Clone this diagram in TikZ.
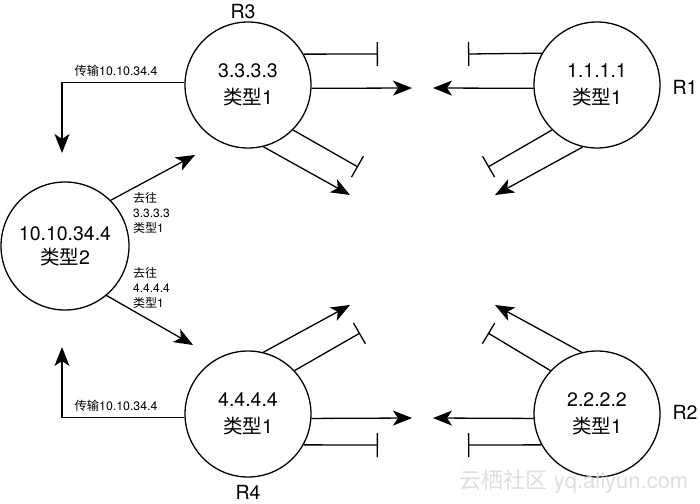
\documentclass[tikz,border=0pt]{standalone}
\usepackage{fontspec}
\setmainfont{TeX Gyre Heros}
\newfontfamily\cjk{Noto Sans CJK SC}
\usetikzlibrary{arrows.meta}
\tikzset{
  router/.style={circle,draw,line width=1.3pt,minimum size=126pt,inner sep=0pt,align=center,font=\fontsize{19.5}{27}\selectfont},
  arr/.style={line width=1.3pt,-{Stealth[length=19pt,width=15pt,inset=5pt]}},
  tbar/.style={line width=1.3pt,-{Bar[width=24pt,line width=1.3pt]}},
  rlabel/.style={font=\fontsize{19.5}{22}\selectfont,inner sep=0pt},
  small/.style={font=\fontsize{12}{15}\selectfont,inner sep=0pt,align=left},
  trans/.style={font=\fontsize{12.3}{14}\selectfont,inner sep=0pt}
}
\begin{document}
\begin{tikzpicture}[x=1pt,y=-1pt]
\useasboundingbox (0,0) rectangle (700,503);
% routers
\node[router] (r3) at (248,85) {3.3.3.3\\{\cjk 类型}1};
\node[router] (r1) at (597,85) {1.1.1.1\\{\cjk 类型}1};
\node[router] (r4) at (248,414) {4.4.4.4\\{\cjk 类型}1};
\node[router] (r2) at (597,414) {2.2.2.2\\{\cjk 类型}1};
\node[router,minimum size=128pt] (t) at (65,246) {10.10.34.4\\[-3pt]{\cjk 类型}2};
% router labels
\node[rlabel] (l3) at (243,12) {R3};
\node[rlabel] (l1) at (685,87) {R1};
\node[rlabel] (l2) at (685,412) {R2};
\node[rlabel] (l4) at (248,492) {R4};
% free ends
\coordinate (c3bar) at (378,54);
\coordinate (c3arr) at (412,88);
\coordinate (c3dbar) at (358,167);
\coordinate (c3darr) at (350,195);
\coordinate (c1bar) at (468,54);
\coordinate (c1arr) at (433,88);
\coordinate (c1dbar) at (488,167);
\coordinate (c1darr) at (495,195);
\coordinate (c4darr) at (350,305);
\coordinate (c4dbar) at (360,333);
\coordinate (c4arr) at (412,418);
\coordinate (c4bar) at (378,445);
\coordinate (c2darr) at (495,305);
\coordinate (c2dbar) at (488,333);
\coordinate (c2arr) at (433,418);
\coordinate (c2bar) at (468,445);
\coordinate (ct) at (62,153);
\coordinate (cb) at (62,347);
\coordinate (cu) at (195,155);
\coordinate (cl) at (193,345);
% R3
\draw[tbar] (r3.29.5) -- (c3bar);
\draw[arr] (r3.-3) -- (c3arr);
\draw[tbar] (r3.-45) -- (c3dbar);
\draw[arr] (r3.-76) -- (c3darr);
% R1
\draw[tbar] (r1.150.5) -- (c1bar);
\draw[arr] (r1.183) -- (c1arr);
\draw[tbar] (r1.225) -- (c1dbar);
\draw[arr] (r1.257) -- (c1darr);
% R4
\draw[arr] (r4.76) -- (c4darr);
\draw[tbar] (r4.43) -- (c4dbar);
\draw[arr] (r4.-4) -- (c4arr);
\draw[tbar] (r4.-29.5) -- (c4bar);
% R2
\draw[arr] (r2.104) -- (c2darr);
\draw[tbar] (r2.137) -- (c2dbar);
\draw[arr] (r2.184) -- (c2arr);
\draw[tbar] (r2.209.5) -- (c2bar);
% left side
\draw[arr] (r3.178) -| (ct);
\draw[arr] (r4.183) -| (cb);
\draw[arr] (t.45) -- (cu);
\draw[arr] (t.-50) -- (cl);
% labels
\node[trans] (tr1) at (116,71) {{\cjk 传输}10.10.34.4};
\node[trans] (tr2) at (116,406) {{\cjk 传输}10.10.34.4};
\node[small,anchor=west] (g3) at (133,213) {{\cjk 去往}\\3.3.3.3\\{\cjk 类型}1};
\node[small,anchor=west] (g4) at (133,288) {{\cjk 去往}\\4.4.4.4\\{\cjk 类型}1};
% watermark
\node[font=\fontsize{22}{24}\selectfont,text=black!13,inner sep=0pt] (wm) at (574,482) {{\cjk 云栖社区} yq.aliyun.com};
\end{tikzpicture}
\end{document}
